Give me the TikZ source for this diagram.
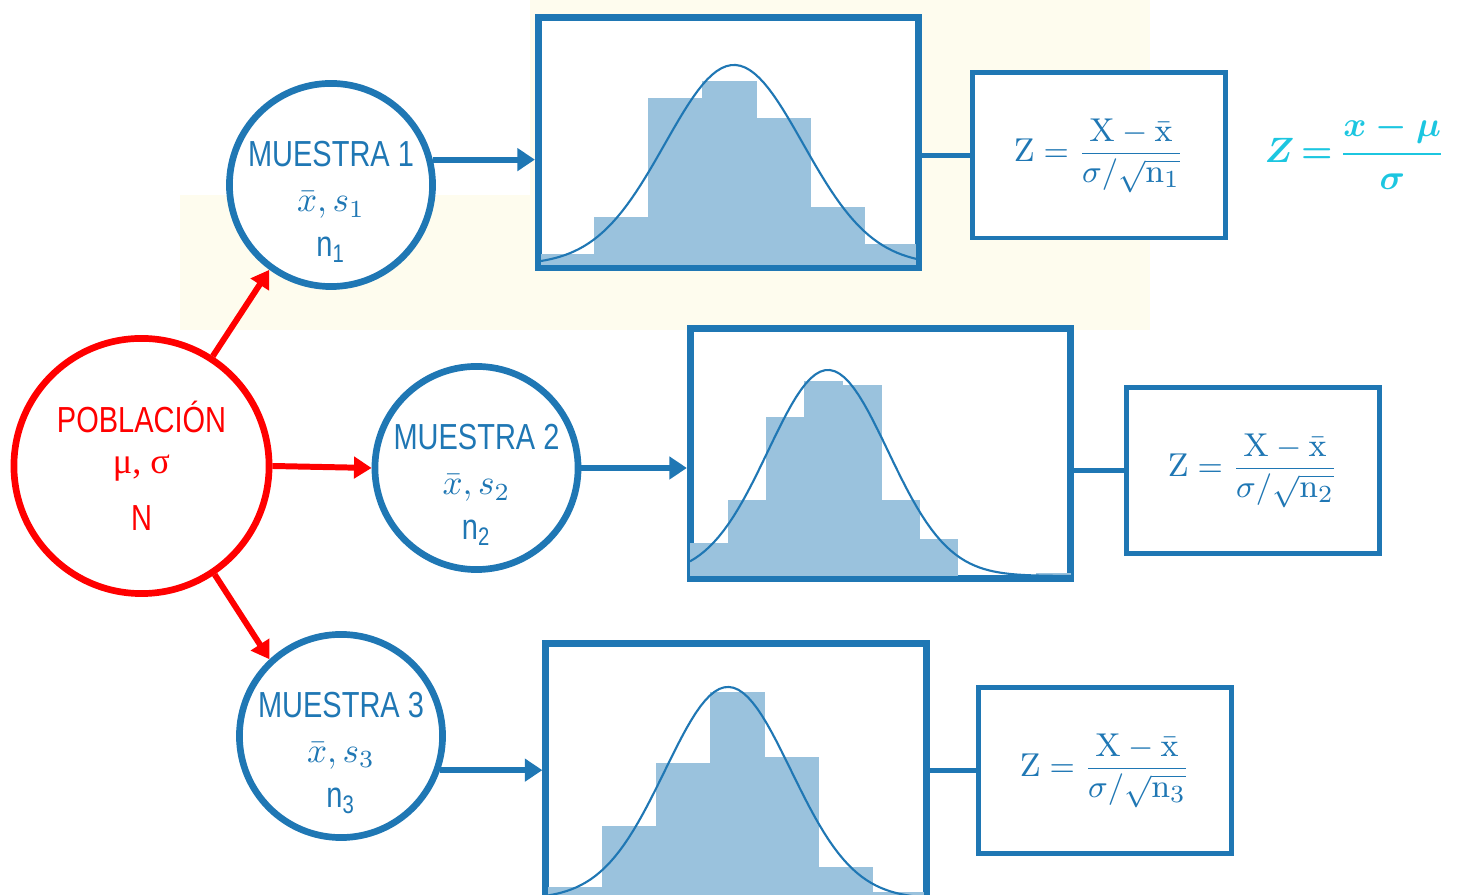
\documentclass[tikz,border=0pt]{standalone}
\usepackage{amsmath}
\usepackage{fontspec}
\newfontfamily\narrowsf[FakeStretch=0.8]{Liberation Sans}
\newfontfamily\greekserif{Liberation Serif}
\usetikzlibrary{arrows.meta,positioning}
\definecolor{mblue}{RGB}{31,119,180}
\definecolor{mbar}{RGB}{154,194,221}
\definecolor{hand}{RGB}{28,198,224}
\definecolor{paper}{RGB}{254,252,238}

\begin{document}
\begin{tikzpicture}[x=0.01cm,y=-0.01cm,
muestra/.style={circle,draw=mblue,line width=1.9pt,fill=white,minimum size=2.03cm,inner sep=0pt},
mtext/.style={text=mblue,align=center,inner sep=0pt,font=\fontsize{10.3}{12.8}\selectfont},
poblacion/.style={circle,draw=red,line width=1.9pt,fill=white,minimum size=2.55cm,inner sep=0pt,
text=red,align=center,font=\fontsize{10.3}{12.5}\selectfont\narrowsf},
histbox/.style={rectangle,draw=mblue,line width=2pt,fill=white,minimum width=3.80cm,minimum height=2.50cm,inner sep=0pt},
zbox/.style={rectangle,draw=mblue,line width=1.4pt,fill=white,minimum width=2.52cm,minimum height=1.65cm,
text=mblue,font=\fontsize{9.4}{11}\selectfont},
bar/.style={fill=mbar},
curve/.style={mblue,line width=0.6pt},
zline/.style={mblue,line width=1.2pt},
bluearrow/.style={mblue,line width=1.7pt,-{Triangle[length=5pt,width=6.3pt]}},
redarrow/.style={red,line width=1.7pt,-{Triangle[length=5pt,width=6pt]}}]
\useasboundingbox (0,0) rectangle (1460,895);
\clip (0,0) rectangle (1460,895);
\fill[paper] (530,0) rectangle (1150,330);
\fill[paper] (180,195) rectangle (530,330);

\node[poblacion] (P) at (141.5,466) {POBLACI\'ON\\[-1pt]{\greekserif μ, σ}\\[3.7pt]N};
\node[muestra] (M1) at (331,185) {};
\node[muestra] (M2) at (476.5,468) {};
\node[muestra] (M3) at (341,736) {};
\node[mtext] (M1t) at (331,202) {{\narrowsf MUESTRA 1}\\$\bar{x}, s_1$\\{\narrowsf n\textsubscript{1}}};
\node[mtext] (M2t) at (476.5,485) {{\narrowsf MUESTRA 2}\\$\bar{x}, s_2$\\{\narrowsf n\textsubscript{2}}};
\node[mtext] (M3t) at (341,753) {{\narrowsf MUESTRA 3}\\$\bar{x}, s_3$\\{\narrowsf n\textsubscript{3}}};

\node[histbox] (H1) at (728.5,142.5) {};
\node[histbox] (H2) at (880.5,453.5) {};
\node[histbox,minimum height=2.64cm] (H3) at (736,776) {};

\node[zbox] (F1) at (1099,155.5) {$\mathrm{Z}=\dfrac{\mathrm{X}-\bar{\mathrm{x}}}{\sigma/\sqrt{\mathrm{n}_1}}$};
\node[zbox] (F2) at (1253,470.5) {$\mathrm{Z}=\dfrac{\mathrm{X}-\bar{\mathrm{x}}}{\sigma/\sqrt{\mathrm{n}_2}}$};
\node[zbox] (F3) at (1105,770.5) {$\mathrm{Z}=\dfrac{\mathrm{X}-\bar{\mathrm{x}}}{\sigma/\sqrt{\mathrm{n}_3}}$};
\node[text=hand,font=\fontsize{10}{12}\selectfont\boldmath,anchor=west,inner sep=0pt] (Zhand) at (1264,152)
  {$Z\mkern-2mu=\mkern-2mu\dfrac{x-\mu}{\sigma}$};

\foreach \a/\b/\t in {541/594/254,594/648/217,648/702/98,702/757/81,757/811/118,811/865/207,865/916/244}
  \fill[bar] (\a,\t) rectangle (\b,265);
\draw[curve] plot[domain=541:916,samples=80] (\x,{265-200*exp(-0.5*((\x-734)/69)^2)});

\foreach \a/\b/\t in {690/728/543,728/766/500,766/804/417,804/843/381,843/882/385,882/920/500,920/958/539,1036/1071/573}
  \fill[bar] (\a,\t) rectangle (\b,576);
\draw[curve] plot[domain=690:1071,samples=80] (\x,{576-206*exp(-0.5*((\x-828)/60)^2)});

\foreach \a/\b/\t in {548/602/887,602/656/826,656/710/763,710/765/692,765/819/757,819/873/867,873/924/892}
  \fill[bar] (\a,\t) rectangle (\b,905);
\draw[curve] plot[domain=548:924,samples=80] (\x,{899-212*exp(-0.5*((\x-728)/63)^2)});

\draw[redarrow] (P.57) -- (M1.234);
\draw[redarrow] (P.east) -- (M2.west);
\draw[redarrow] (P.-56) -- (M3.133);
\draw[bluearrow] (M1.14) -- (M1.14 -| H1.west);
\draw[bluearrow] (M2.east) -- (M2.east -| H2.west);
\draw[bluearrow] (M3.-19) -- (M3.-19 -| H3.west);
\draw[zline] (F1.west -| H1.east) -- (F1.west);
\draw[zline] (F2.west -| H2.east) -- (F2.west);
\draw[zline] (F3.west -| H3.east) -- (F3.west);
\end{tikzpicture}
\end{document}
